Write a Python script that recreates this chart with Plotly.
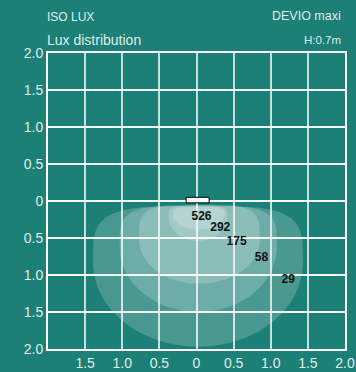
import numpy as np
import plotly.graph_objects as go

# ---- data ----
levels = [29, 58, 175, 292, 526]
center_x = [0.02, 0.024, 0.04, 0.02, 0.03]
half_width = [1.415, 1.06, 0.815, 0.40, 0.35]
top_y = [-0.07, -0.06, -0.05, -0.06, -0.08]
bottom_y = [-1.97, -1.50, -1.12, -0.54, -0.39]
widest_frac = [0.40, 0.39, 0.44, 0.33, 0.33]

label_text = ["526", "292", "175", "58", "29"]
label_x = [0.067, 0.32, 0.54, 0.876, 1.236]
label_y = [-0.22, -0.36, -0.56, -0.77, -1.07]

lamp_x = [-0.14, 0.17]
lamp_y = [-0.025, 0.05]

tick_vals = [-2.0, -1.5, -1.0, -0.5, 0.0, 0.5, 1.0, 1.5, 2.0]
y_tick_text = ["2.0", "1.5", "1.0", "0.5", "0", "0.5", "1.0", "1.5", "2.0"]
x_tick_text = ["", "1.5", "1.0", "0.5", "0", "0.5", "1.0", "1.5", "2.0"]

BG = "#1c8076"
TXT = "rgba(255,255,255,0.88)"


def outline(cx, w, yt, yb, f, nt=4.0, nb=2.0):
    ym = yt + f * (yb - yt)
    ht = yt - ym
    hb = ym - yb
    th = np.linspace(0, 2 * np.pi, 241)
    c, s = np.cos(th), np.sin(th)
    xs, ys = [], []
    for ci, si in zip(c, s):
        n = nt if si >= 0 else nb
        xs.append(cx + w * np.sign(ci) * abs(ci) ** (2 / n))
        ys.append(ym + (ht if si >= 0 else hb) * np.sign(si) * abs(si) ** (2 / n))
    return xs, ys


fig = go.Figure()
for i, lv in enumerate(levels):
    xs, ys = outline(center_x[i], half_width[i], top_y[i], bottom_y[i], widest_frac[i])
    fig.add_trace(go.Scatter(x=xs, y=ys, fill="toself", mode="lines",
                             line=dict(width=0), fillcolor="rgba(255,255,255,0.2)",
                             hoverinfo="skip", showlegend=False, name=str(lv)))

fig.add_trace(go.Scatter(x=label_x, y=label_y, mode="text", text=label_text,
                         textfont=dict(family="Liberation Sans, Arial", size=12, color="#111111",
                                       weight="bold"),
                         showlegend=False, hoverinfo="skip"))

fig.add_shape(type="rect", x0=lamp_x[0], x1=lamp_x[1], y0=lamp_y[0], y1=lamp_y[1],
              fillcolor="white", line=dict(color="black", width=1), layer="above")

axis_common = dict(range=[-2, 2], tickvals=tick_vals, showline=True, mirror=True,
                   linecolor="white", linewidth=2, zeroline=False, ticks="",
                   automargin=False,
                   tickfont=dict(family="Liberation Sans, Arial", size=14, color=TXT),
                   fixedrange=True)

fig.update_xaxes(ticktext=x_tick_text, gridcolor="rgba(255,255,255,0.75)", gridwidth=2,
                 **axis_common)
fig.update_yaxes(ticktext=y_tick_text, gridcolor="rgba(255,255,255,0.95)", gridwidth=2,
                 **axis_common)

ann_font = "Liberation Sans, Arial"
fig.update_layout(
    width=356, height=372,
    margin=dict(l=48, r=11, t=53, b=23, autoexpand=False),
    paper_bgcolor=BG, plot_bgcolor=BG,
    hovermode=False,
    annotations=[
        dict(text="ISO LUX", xref="paper", yref="paper", x=-0.01, y=1.1216,
             xanchor="left", yanchor="middle", showarrow=False,
             font=dict(family=ann_font, size=12, color=TXT)),
        dict(text="DEVIO maxi", xref="paper", yref="paper", x=0.9933, y=1.125,
             xanchor="right", yanchor="middle", showarrow=False,
             font=dict(family=ann_font, size=12.5, color=TXT)),
        dict(text="Lux distribution", xref="paper", yref="paper", x=-0.01, y=1.044,
             xanchor="left", yanchor="middle", showarrow=False,
             font=dict(family=ann_font, size=14, color=TXT)),
        dict(text="H:0.7m", xref="paper", yref="paper", x=0.9933, y=1.044,
             xanchor="right", yanchor="middle", showarrow=False,
             font=dict(family=ann_font, size=11.5, color=TXT)),
    ],
)

fig.write_html("out.html",
               config={"displayModeBar": False, "staticPlot": True},
               post_script="document.body.style.margin='0';document.body.style.overflow='hidden';document.body.style.background='" + BG + "';")
